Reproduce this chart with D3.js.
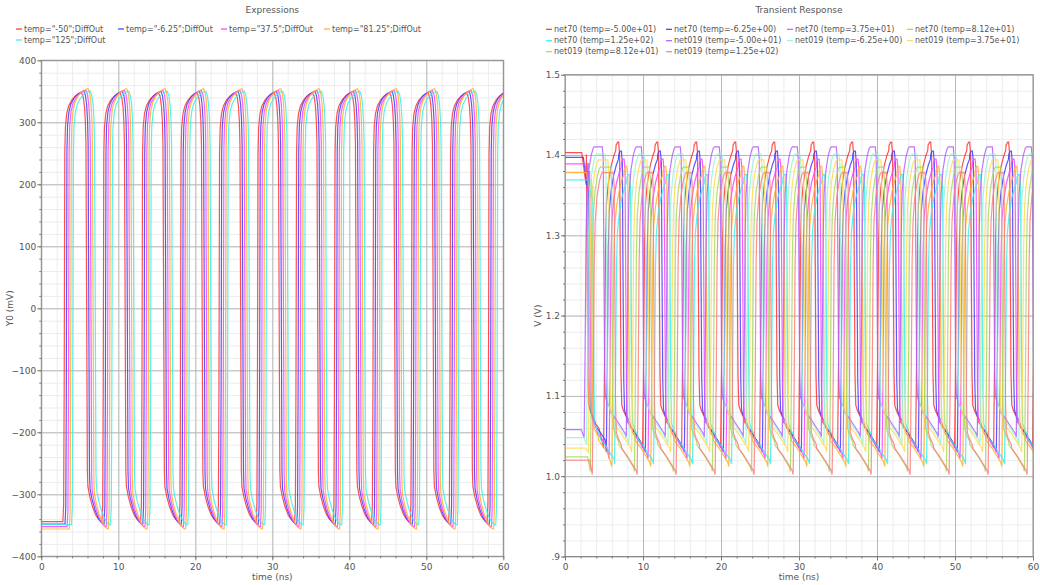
<!DOCTYPE html>
<html><head><meta charset="utf-8">
<script src="https://cdn.jsdelivr.net/npm/d3@7"></script>
<style>body{margin:0;background:#fff}text{font-family:"DejaVu Sans",sans-serif;fill:#555}</style>
</head><body><svg id="c" width="1040" height="585"></svg>
<script>
// ---------- DATA ----------
const xTicks = [0,10,20,30,40,50,60];
const xTickLabels = ["0","10","20","30","40","50","60"];
const leftYTicks = [400,300,200,100,0,-100,-200,-300,-400];
const leftYLabels = ["400","300","200","100","0","\u2212100","\u2212200","\u2212300","\u2212400"];
const rightYTicks = [1.5,1.4,1.3,1.2,1.1,1.0,0.9];
const rightYLabels = ["1.5","1.4","1.3","1.2","1.1","1.0",".9"];

const diffNames = ['temp="-50";DiffOut','temp="-6.25";DiffOut','temp="37.5";DiffOut','temp="81.25";DiffOut','temp="125";DiffOut'];
const diffColors = ['#ff3030','#3c3cff','#ff40ff','#ffb028','#38eeee'];
const diffLow = [-344,-348,-352,-356,-349];
const diffHigh = [347,350,351,354,350];
const diffRise_m50  = [3.05,8.12,13.15,18.15,23.15,28.15,33.15,38.15,43.15,48.15,53.15,58.15];
const diffFall_m50  = [5.80,10.80,15.80,20.80,25.80,30.80,35.80,40.80,45.80,50.80,55.80,60.80];
const diffRise_m625 = [3.33,8.40,13.43,18.43,23.43,28.43,33.43,38.43,43.43,48.43,53.43,58.43];
const diffFall_m625 = [6.08,11.08,16.08,21.08,26.08,31.08,36.08,41.08,46.08,51.08,56.08,61.08];
const diffRise_375  = [3.61,8.68,13.71,18.71,23.71,28.71,33.71,38.71,43.71,48.71,53.71,58.71];
const diffFall_375  = [6.36,11.36,16.36,21.36,26.36,31.36,36.36,41.36,46.36,51.36,56.36,61.36];
const diffRise_8125 = [3.89,8.96,13.99,18.99,23.99,28.99,33.99,38.99,43.99,48.99,53.99,58.99];
const diffFall_8125 = [6.64,11.64,16.64,21.64,26.64,31.64,36.64,41.64,46.64,51.64,56.64,61.64];
const diffRise_125  = [4.17,9.24,14.27,19.27,24.27,29.27,34.27,39.27,44.27,49.27,54.27,59.27];
const diffFall_125  = [6.92,11.92,16.92,21.92,26.92,31.92,36.92,41.92,46.92,51.92,56.92,61.92];
// edge shapes: [time offset ns, fraction of swing]
const diffRiseShape = [[-0.25,0],[-0.15,0.04],[-0.08,0.3],[0,0.86],[0.08,0.92],[0.25,0.952],[0.5,0.97],[0.9,0.984],[1.4,0.994],[2.0,1.0]];
const diffFallShape = [[-0.55,1.0],[-0.35,0.99],[-0.2,0.97],[-0.08,0.935],[0,0.88],[0.1,0.45],[0.18,0.12],[0.25,0.082],[0.5,0.058],[0.85,0.035],[1.25,0.016],[1.65,0.005],[1.95,0]];

const trNames = ['net70 (temp=-5.00e+01)','net70 (temp=-6.25e+00)','net70 (temp=3.75e+01)','net70 (temp=8.12e+01)','net70 (temp=1.25e+02)',
                 'net019 (temp=-5.00e+01)','net019 (temp=-6.25e+00)','net019 (temp=3.75e+01)','net019 (temp=8.12e+01)','net019 (temp=1.25e+02)'];
const trColors = ['#ff3030','#3c3cff','#ff40ff','#ffb028','#38eeee','#b35cff','#98f5d6','#ffdc50','#a8d860','#ff7c7c'];
const trInit = [1.403,1.397,1.389,1.378,1.369,1.058,1.048,1.035,1.024,1.020];
const trStartSag = [0.04,0.04,0.035,0.03,0.025,0,0,0,0,0];
const trLow  = [1.035,1.030,1.022,1.012,1.015,1.048,1.040,1.030,1.006,1.002];
const trHigh = [1.416,1.405,1.395,1.386,1.376,1.410,1.401,1.394,1.385,1.378];
const n70Rise_m50  = [5.00,10.00,15.00,20.00,25.00,30.00,35.00,40.00,45.00,50.00,55.00,60.00];
const n70Fall_m50  = [2.75,7.00,12.00,17.00,22.00,27.00,32.00,37.00,42.00,47.00,52.00,57.00];
const n70Rise_m625 = [5.35,10.35,15.35,20.35,25.35,30.35,35.35,40.35,45.35,50.35,55.35,60.35];
const n70Fall_m625 = [2.95,7.35,12.35,17.35,22.35,27.35,32.35,37.35,42.35,47.35,52.35,57.35];
const n70Rise_375  = [5.70,10.70,15.70,20.70,25.70,30.70,35.70,40.70,45.70,50.70,55.70,60.70];
const n70Fall_375  = [3.15,7.70,12.70,17.70,22.70,27.70,32.70,37.70,42.70,47.70,52.70,57.70];
const n70Rise_8125 = [6.05,11.05,16.05,21.05,26.05,31.05,36.05,41.05,46.05,51.05,56.05,61.05];
const n70Fall_8125 = [3.35,8.05,13.05,18.05,23.05,28.05,33.05,38.05,43.05,48.05,53.05,58.05];
const n70Rise_125  = [6.40,11.40,16.40,21.40,26.40,31.40,36.40,41.40,46.40,51.40,56.40,61.40];
const n70Fall_125  = [3.55,8.40,13.40,18.40,23.40,28.40,33.40,38.40,43.40,48.40,53.40,58.40];
const n019Rise_m50  = [2.50,7.90,12.90,17.90,22.90,27.90,32.90,37.90,42.90,47.90,52.90,57.90];
const n019Fall_m50  = [4.90,9.90,14.90,19.90,24.90,29.90,34.90,39.90,44.90,49.90,54.90,59.90];
const n019Rise_m625 = [2.80,8.25,13.25,18.25,23.25,28.25,33.25,38.25,43.25,48.25,53.25,58.25];
const n019Fall_m625 = [5.25,10.25,15.25,20.25,25.25,30.25,35.25,40.25,45.25,50.25,55.25,60.25];
const n019Rise_375  = [3.05,8.60,13.60,18.60,23.60,28.60,33.60,38.60,43.60,48.60,53.60,58.60];
const n019Fall_375  = [5.60,10.60,15.60,20.60,25.60,30.60,35.60,40.60,45.60,50.60,55.60,60.60];
const n019Rise_8125 = [3.30,8.95,13.95,18.95,23.95,28.95,33.95,38.95,43.95,48.95,53.95,58.95];
const n019Fall_8125 = [5.95,10.95,15.95,20.95,25.95,30.95,35.95,40.95,45.95,50.95,55.95,60.95];
const n019Rise_125  = [3.55,9.30,14.30,19.30,24.30,29.30,34.30,39.30,44.30,49.30,54.30,59.30];
const n019Fall_125  = [6.30,11.30,16.30,21.30,26.30,31.30,36.30,41.30,46.30,51.30,56.30,61.30];
const n70RiseShape  = [[-0.05,0],[0.08,0.3],[0.2,0.68],[0.32,0.8],[0.55,0.865],[0.9,0.92],[1.25,0.955],[1.5,0.972],[1.55,0.99],[1.75,1.0],[1.9,1.0]];
const n019RiseShape = [[-0.05,0],[0.08,0.3],[0.2,0.7],[0.32,0.84],[0.55,0.92],[0.85,0.97],[1.1,0.995],[1.25,1.0]];
const trFallShape   = [[-0.12,1.0],[0,0.96],[0.08,0.62],[0.18,0.24],[0.28,0.14],[0.5,0.122],[0.9,0.1],[1.0,0.085],[1.6,0.065],[2.2,0.04],[2.8,0.015]];

// ---------- BUILD ----------
function buildWave(init, L, H, rises, falls, riseShape, fallShape, sag) {
  const ev = rises.map(t=>({t, s:riseShape, fall:false})).concat(falls.map(t=>({t, s:fallShape, fall:true}))).sort((a,b)=>a.t-b.t);
  const pts = [[0, init]];
  if (ev[0].fall && sag) {
    pts.push([ev[0].t-0.6, init]);
    pts.push([ev[0].t-0.05, init-sag]);
  } else {
    pts.push([ev[0].t + ev[0].s[0][0] - 0.35, init]);
  }
  ev.forEach((e,i)=>{
    const next = i+1<ev.length ? ev[i+1].t + ev[i+1].s[0][0] : Infinity;
    e.s.forEach(([dt,f])=>{
      const tt = e.t+dt;
      if (tt > pts[pts.length-1][0] && tt < next) pts.push([tt, L + f*(H-L)]);
    });
  });
  return pts;
}
const diffRises = [diffRise_m50,diffRise_m625,diffRise_375,diffRise_8125,diffRise_125];
const diffFalls = [diffFall_m50,diffFall_m625,diffFall_375,diffFall_8125,diffFall_125];
const diffSeries = diffRises.map((r,i)=>buildWave(diffLow[i],diffLow[i],diffHigh[i],r,diffFalls[i],diffRiseShape,diffFallShape,0));
const trRises = [n70Rise_m50,n70Rise_m625,n70Rise_375,n70Rise_8125,n70Rise_125,n019Rise_m50,n019Rise_m625,n019Rise_375,n019Rise_8125,n019Rise_125];
const trFalls = [n70Fall_m50,n70Fall_m625,n70Fall_375,n70Fall_8125,n70Fall_125,n019Fall_m50,n019Fall_m625,n019Fall_375,n019Fall_8125,n019Fall_125];
const trSeries = trRises.map((r,i)=>buildWave(trInit[i],trLow[i],trHigh[i],r,trFalls[i], i<5?n70RiseShape:n019RiseShape, trFallShape, trStartSag[i]));

// ---------- DRAW ----------
const svg = d3.select('#c');
svg.append('rect').attr('width',1040).attr('height',585).attr('fill','#fff');

function panel(cfg){
  const x = d3.scaleLinear().domain([0,60]).range([cfg.x0,cfg.x1]);
  const y = d3.scaleLinear().domain(cfg.yDom).range([cfg.y1,cfg.y0]);
  const W = cfg.x1-cfg.x0, Hh = cfg.y1-cfg.y0;
  const g = svg.append('g');
  const xMinor = d3.range(0,60.001,2);
  const yMinor = d3.range(cfg.yDom[0], cfg.yDom[1]+cfg.yMinorStep/2, cfg.yMinorStep);
  g.append('g').attr('transform',`translate(0,${cfg.y1})`)
    .call(d3.axisBottom(x).tickValues(xMinor).tickSize(-Hh).tickFormat(''))
    .call(s=>{s.select('.domain').remove();s.selectAll('line').attr('stroke','#ececec');});
  g.append('g').attr('transform',`translate(${cfg.x0},0)`)
    .call(d3.axisLeft(y).tickValues(yMinor).tickSize(-W).tickFormat(''))
    .call(s=>{s.select('.domain').remove();s.selectAll('line').attr('stroke','#ececec');});
  g.append('g').attr('transform',`translate(0,${cfg.y1})`)
    .call(d3.axisBottom(x).tickValues(xTicks).tickSize(-Hh).tickFormat(''))
    .call(s=>{s.select('.domain').remove();s.selectAll('line').attr('stroke','#b8b8b8');});
  g.append('g').attr('transform',`translate(${cfg.x0},0)`)
    .call(d3.axisLeft(y).tickValues(cfg.yTicks).tickSize(-W).tickFormat(''))
    .call(s=>{s.select('.domain').remove();s.selectAll('line').attr('stroke','#b8b8b8');});
  const cid = 'clip'+cfg.id;
  svg.append('clipPath').attr('id',cid).append('rect').attr('x',cfg.x0).attr('y',cfg.y0).attr('width',W).attr('height',Hh);
  const line = d3.line().x(d=>x(d[0])).y(d=>y(d[1]));
  const lg = svg.append('g').attr('clip-path',`url(#${cid})`);
  cfg.series.forEach((s,i)=>{
    lg.append('path').datum(s).attr('d',line).attr('fill','none')
      .attr('stroke',cfg.colors[i]).attr('stroke-width',1.2).attr('stroke-opacity',0.85);
  });
  svg.append('rect').attr('x',cfg.x0).attr('y',cfg.y0).attr('width',W).attr('height',Hh)
    .attr('fill','none').attr('stroke','#8a8a8a').attr('stroke-width',1);
  const ax = svg.append('g');
  ax.append('g').attr('transform',`translate(0,${cfg.y1})`)
    .call(d3.axisBottom(x).tickValues(xMinor).tickSize(2).tickFormat(''))
    .call(s=>{s.select('.domain').remove();s.selectAll('line').attr('stroke','#777');});
  ax.append('g').attr('transform',`translate(0,${cfg.y1})`)
    .call(d3.axisBottom(x).tickValues(xTicks).tickSize(4).tickPadding(3).tickFormat((d,i)=>xTickLabels[i]))
    .call(s=>{s.select('.domain').remove();s.selectAll('line').attr('stroke','#777');
      s.selectAll('text').attr('font-size','9px').attr('fill','#555').style('font-family','DejaVu Sans');});
  ax.append('g').attr('transform',`translate(${cfg.x0},0)`)
    .call(d3.axisLeft(y).tickValues(yMinor).tickSize(2).tickFormat(''))
    .call(s=>{s.select('.domain').remove();s.selectAll('line').attr('stroke','#777');});
  ax.append('g').attr('transform',`translate(${cfg.x0},0)`)
    .call(d3.axisLeft(y).tickValues(cfg.yTicks).tickSize(4).tickPadding(1).tickFormat((d,i)=>cfg.yLabels[i]))
    .call(s=>{s.select('.domain').remove();s.selectAll('line').attr('stroke','#777');
      s.selectAll('text').attr('font-size','9px').attr('fill','#555').style('font-family','DejaVu Sans');});
  svg.append('text').attr('x',(cfg.x0+cfg.x1)/2).attr('y',13).attr('text-anchor','middle').attr('font-size','9px').text(cfg.title);
  svg.append('text').attr('x',(cfg.x0+cfg.x1)/2).attr('y',580).attr('text-anchor','middle').attr('font-size','9px').text('time (ns)');
  svg.append('text').attr('transform',`translate(${cfg.ylx},${(cfg.y0+cfg.y1)/2}) rotate(-90)`).attr('text-anchor','middle').attr('font-size','9px').text(cfg.ylabel);
  cfg.names.forEach((n,i)=>{
    const p = cfg.legendPos[i];
    svg.append('line').attr('x1',p[0]).attr('x2',p[0]+6).attr('y1',p[1]).attr('y2',p[1]).attr('stroke',cfg.colors[i]).attr('stroke-width',1.2);
    svg.append('text').attr('x',p[0]+8).attr('y',p[1]).attr('dy','0.33em').attr('font-size','8px').text(n);
  });
}

panel({id:'L', x0:41.3, x1:503.3, y0:60.3, y1:556.3, yDom:[-400,400], yTicks:leftYTicks, yLabels:leftYLabels, yMinorStep:20,
  series:diffSeries, colors:diffColors, names:diffNames, title:'Expressions', ylabel:'Y0 (mV)', ylx:13,
  legendPos:[[16,29],[118,29],[221,29],[324,29],[16,40]]});
panel({id:'R', x0:565, x1:1033, y0:74.7, y1:556.5, yDom:[0.9,1.5], yTicks:rightYTicks, yLabels:rightYLabels, yMinorStep:0.02,
  series:trSeries, colors:trColors, names:trNames, title:'Transient Response', ylabel:'V (V)', ylx:541,
  legendPos:[[546,29.3],[666,29.3],[787,29.3],[907,29.3],[546,40.7],[666,40.7],[787,40.7],[907,40.7],[546,51.7],[666,51.7]]});
</script></body></html>
